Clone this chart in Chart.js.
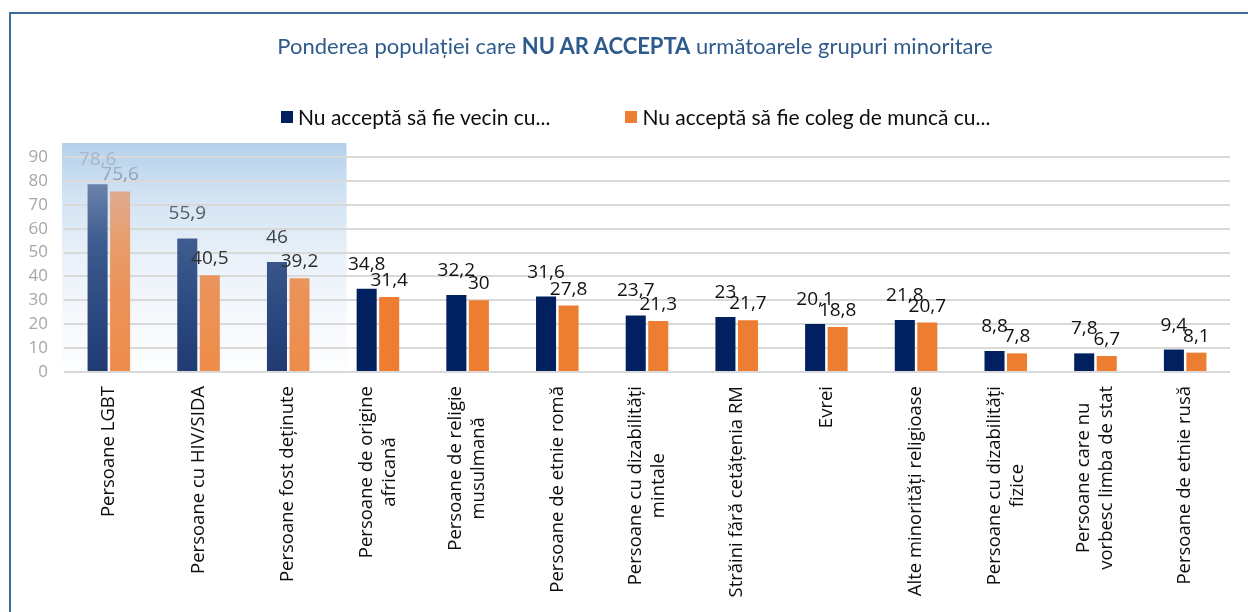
<!DOCTYPE html>
<html lang="ro">
<head>
<meta charset="utf-8">
<title>Ponderea populației care NU AR ACCEPTA următoarele grupuri minoritare</title>
<script src="https://cdn.jsdelivr.net/npm/chart.js@4.4.1/dist/chart.umd.min.js"></script>
<style>
  html, body { margin: 0; padding: 0; background: #fff; }
  #wrap { position: relative; width: 1248px; height: 612px; overflow: hidden; }
  #chart { position: absolute; left: 0; top: 0; }
  .frame {
    position: absolute; left: 9px; top: 12px; width: 1260px; height: 640px;
    border-left: 2px solid #3d6a97; border-top: 2px solid #3d6a97;
  }
  .title {
    position: absolute; left: 0; top: 32px; width: 1270px; text-align: center;
    font-family: Lato, "Open Sans", sans-serif; font-size: 22px; color: #2f5b8c;
  }
  .title b { font-weight: 700; }
  #legend {
    position: absolute; left: 281px; top: 104px; display: flex; gap: 75px;
    font-family: Lato, "Open Sans", sans-serif; font-size: 21px; color: #0d0d0d;
  }
  .item { display: flex; align-items: center; white-space: nowrap; }
  .swatch { width: 12px; height: 12px; margin-right: 5px; }
</style>
</head>
<body>
<div id="wrap">
  <canvas id="chart" width="1248" height="612"></canvas>
  <div class="frame"></div>
  <div class="title">Ponderea populației care <b>NU AR ACCEPTA</b> următoarele grupuri minoritare</div>
  <div id="legend"></div>
</div>
<script>
const categories = [
  'Persoane LGBT',
  'Persoane cu HIV/SIDA',
  'Persoane fost deținute',
  ['Persoane de origine', 'africană'],
  ['Persoane de religie', 'musulmană'],
  'Persoane de etnie romă',
  ['Persoane cu dizabilități', 'mintale'],
  'Străini fără cetățenia RM',
  'Evrei',
  'Alte minorități religioase',
  ['Persoane cu dizabilități', 'fizice'],
  ['Persoane care nu', 'vorbesc limba de stat'],
  'Persoane de etnie rusă'
];

const seriesNames = ['Nu acceptă să fie vecin cu...', 'Nu acceptă să fie coleg de muncă cu...'];
const neighbour = [78.6, 55.9, 46, 34.8, 32.2, 31.6, 23.7, 23, 20.1, 21.8, 8.8, 7.8, 9.4];
const colleague = [75.6, 40.5, 39.2, 31.4, 30, 27.8, 21.3, 21.7, 18.8, 20.7, 7.8, 6.7, 8.1];
const yTicks = [0, 10, 20, 30, 40, 50, 60, 70, 80, 90];

const NAVY = '#002060';
const ORANGE = '#ed7d31';
const HIGHLIGHTED = 3; // first categories sit under the blue box
const FONT = '"Open Sans", sans-serif';
const decimal = new Intl.NumberFormat('ro-RO', { maximumFractionDigits: 1 });

// extent of the highlight box, in pixels
function boxBounds(chart) {
  const x = chart.scales.x;
  const y = chart.scales.y;
  const step = x.getPixelForValue(1) - x.getPixelForValue(0);
  return {
    left: chart.chartArea.left - 2,
    right: x.getPixelForValue(HIGHLIGHTED - 1) + step * 0.65,
    top: y.getPixelForValue(yTicks[yTicks.length - 1]) - 14,
    bottom: chart.chartArea.bottom
  };
}

function fadedFill(chart, stops) {
  const b = boxBounds(chart);
  const g = chart.ctx.createLinearGradient(0, b.top, 0, b.bottom);
  stops.forEach(([pos, color]) => g.addColorStop(pos, color));
  return g;
}

function barColor(base, stops) {
  return (ctx) => {
    if (ctx.dataIndex >= HIGHLIGHTED || !ctx.chart.chartArea) return base;
    return fadedFill(ctx.chart, stops);
  };
}

const highlightBox = {
  id: 'highlightBox',
  beforeDraw(chart) {
    const b = boxBounds(chart);
    const ctx = chart.ctx;
    ctx.save();
    ctx.fillStyle = fadedFill(chart, [
      [0, '#b4d1eb'], [0.25, '#d4e4f3'], [0.5, '#e9f1f9'], [0.75, '#f5f8fc'], [1, '#fdfeff']
    ]);
    ctx.fillRect(b.left, b.top, b.right - b.left, b.bottom - b.top);
    ctx.restore();
  }
};

const valueLabels = {
  id: 'valueLabels',
  afterDatasetsDraw(chart) {
    const ctx = chart.ctx;
    const lift = [19, 11];
    const textFade = fadedFill(chart, [
      [0, '#b0bccb'], [0.1, '#a5b2c3'], [0.2, '#7e8896'], [0.35, '#444a52'], [0.55, '#2b2b2b'], [1, '#1a1a1a']
    ]);
    ctx.save();
    ctx.font = `19px ${FONT}`;
    ctx.textAlign = 'center';
    ctx.textBaseline = 'alphabetic';
    chart.data.datasets.forEach((ds, di) => {
      chart.getDatasetMeta(di).data.forEach((bar, i) => {
        ctx.fillStyle = i < HIGHLIGHTED ? textFade : '#111';
        ctx.fillText(decimal.format(ds.data[i]), bar.x, bar.y - lift[di]);
      });
    });
    ctx.restore();
  }
};

const categoryLabels = {
  id: 'categoryLabels',
  afterDraw(chart) {
    const ctx = chart.ctx;
    const x = chart.scales.x;
    const top = chart.chartArea.bottom + 14;
    const lineGap = 23;
    ctx.save();
    ctx.font = `18.5px ${FONT}`;
    ctx.fillStyle = '#0d0d0d';
    ctx.textAlign = 'center';
    ctx.textBaseline = 'middle';
    categories.forEach((label, i) => {
      const lines = Array.isArray(label) ? label : [label];
      const widest = Math.max(...lines.map((l) => ctx.measureText(l).width));
      const cx = x.getPixelForValue(i);
      lines.forEach((line, li) => {
        ctx.save();
        ctx.translate(cx + (li - (lines.length - 1) / 2) * lineGap, top + widest / 2);
        ctx.rotate(-Math.PI / 2);
        ctx.fillText(line, 0, 0);
        ctx.restore();
      });
    });
    ctx.restore();
  }
};

function renderLegend() {
  const colors = [NAVY, ORANGE];
  document.getElementById('legend').innerHTML = seriesNames
    .map((name, i) => `
      <div class="item"><span class="swatch" style="background:${colors[i]}"></span>${name}</div>
    `)
    .join('');
}

function renderChart() {
  const ctx = document.getElementById('chart');

  new Chart(ctx, {
    type: 'bar',
    data: {
      labels: categories,
      datasets: [
        {
          label: seriesNames[0],
          data: neighbour,
          backgroundColor: barColor(NAVY, [
            [0, '#7d94ba'], [0.18, '#6b82aa'], [0.43, '#3f5c90'], [0.7, '#2d4a82'], [1, '#213b73']
          ]),
          categoryPercentage: 0.502,
          barPercentage: 0.89
        },
        {
          label: seriesNames[1],
          data: colleague,
          backgroundColor: barColor(ORANGE, [
            [0, '#d9b6a3'], [0.2, '#deac90'], [0.45, '#e89c6a'], [0.65, '#eb9259'], [1, '#ee8c4a']
          ]),
          categoryPercentage: 0.502,
          barPercentage: 0.89
        }
      ]
    },
    options: {
      responsive: false,
      animation: false,
      layout: {
        padding: { top: 157, right: 18, bottom: 232, left: 0 }
      },
      plugins: {
        legend: { display: false },
        title: { display: false },
        tooltip: { enabled: false }
      },
      scales: {
        x: {
          ticks: { display: false },
          grid: { display: false },
          border: { display: false }
        },
        y: {
          min: yTicks[0],
          max: yTicks[yTicks.length - 1],
          afterBuildTicks: (scale) => {
            scale.ticks = yTicks.map((value) => ({ value }));
          },
          afterFit: (scale) => {
            scale.width = 64;
          },
          ticks: {
            color: '#a6a6a6',
            padding: 16,
            font: { family: FONT, size: 17 }
          },
          grid: { color: '#d9d9d9', lineWidth: 2, drawTicks: false },
          border: { display: false }
        }
      }
    },
    plugins: [highlightBox, valueLabels, categoryLabels]
  });
}

renderLegend();
document.fonts.load(`18px ${FONT}`).finally(renderChart);
</script>
</body>
</html>
